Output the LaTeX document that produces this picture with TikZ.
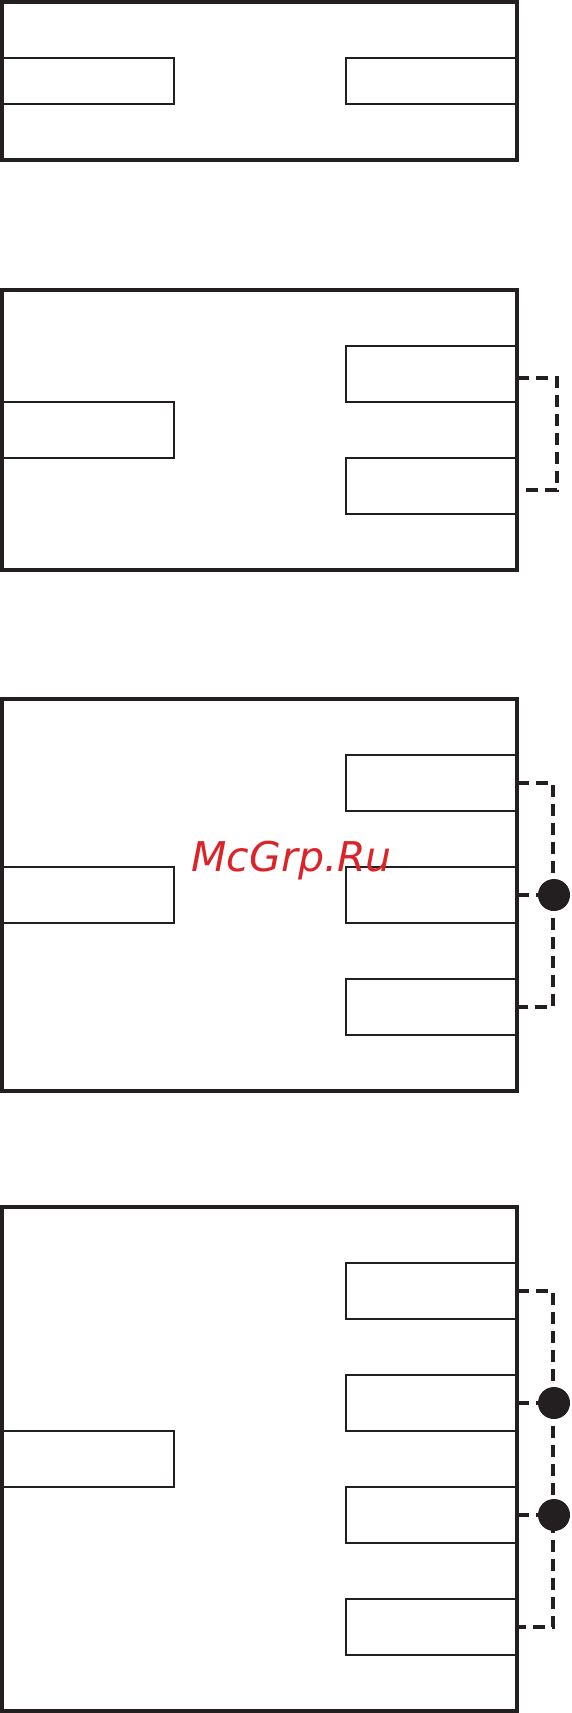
\documentclass[tikz,border=0pt]{standalone}
\usepackage{fontspec}
\newfontfamily\wmfont{DejaVu Sans}
\definecolor{ink}{RGB}{35,31,32}
\definecolor{wmred}{RGB}{220,35,40}
\tikzset{
  housing/.style={draw=ink,line width=4pt},
  port/.style={rectangle,draw=ink,line width=2pt,inner sep=0pt,outer sep=0pt,minimum height=56pt},
  lport/.style={port,minimum width=172pt},
  rport/.style={port,minimum width=171pt},
  link/.style={draw=ink,line width=4pt,dash pattern=on 12pt off 7pt},
  joint/.style={circle,fill=ink,inner sep=0pt,minimum size=32pt}
}
\begin{document}
\begin{tikzpicture}[x=1pt,y=-1pt]
\useasboundingbox (0,0) rectangle (572,1713);
% one to one
\node[lport,minimum height=46pt] (p1l) at (88,81) {};
\node[rport,minimum height=46pt] (p1r) at (431.5,81) {};
\draw[housing] (2,2) rectangle (517,160);
% one to two
\node[lport] (p2l) at (88,430) {};
\node[rport] (p2a) at (431.5,374) {};
\node[rport] (p2b) at (431.5,486) {};
\draw[housing] (2,290) rectangle (517,570);
\draw[link] ([yshift=-4pt]p2a.east) -- ++(40,0) |- ([yshift=-4pt]p2b.east);
% one to three
\node[lport] (p3l) at (88,895) {};
\node[rport] (p3a) at (431.5,783) {};
\node[rport] (p3b) at (431.5,895) {};
\node[rport] (p3c) at (431.5,1007) {};
\draw[housing] (2,699) rectangle (517,1091);
\node[joint] (j3) at ([xshift=37pt]p3b.east) {};
\draw[link] (p3a.east) -- ++(36,0) |- (p3c.east);
\draw[link] (p3b.east) -- (j3);
\node[font={\wmfont\itshape\fontsize{41}{41}\selectfont},text=wmred,anchor=base] (wm) at (291.5,871) {McGrp.Ru};
% one to four
\node[lport] (p4l) at (88,1459) {};
\node[rport] (p4a) at (431.5,1291) {};
\node[rport] (p4b) at (431.5,1403) {};
\node[rport] (p4c) at (431.5,1515) {};
\node[rport] (p4d) at (431.5,1627) {};
\draw[housing] (2,1207) rectangle (517,1711);
\node[joint] (j4a) at ([xshift=37pt]p4b.east) {};
\node[joint] (j4b) at ([xshift=37pt]p4c.east) {};
\draw[link] (p4a.east) -- ++(36,0) |- (p4d.east);
\draw[link] (p4b.east) -- (j4a);
\draw[link] (p4c.east) -- (j4b);
\end{tikzpicture}
\end{document}
